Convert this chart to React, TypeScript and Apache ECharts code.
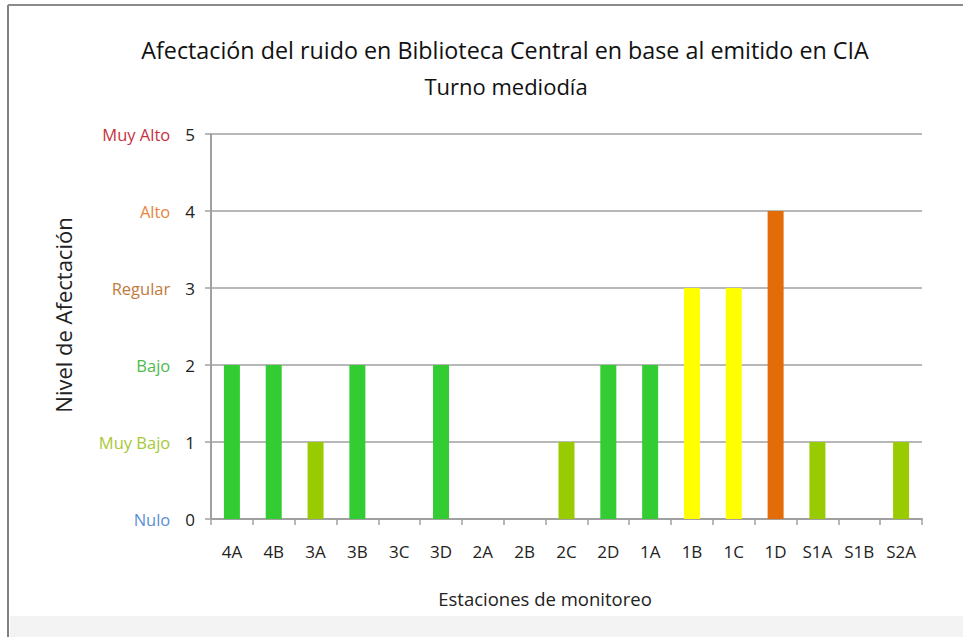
import React, { useEffect, useRef } from "react";
import * as echarts from "echarts";

const categories = ["4A", "4B", "3A", "3B", "3C", "3D", "2A", "2B", "2C", "2D", "1A", "1B", "1C", "1D", "S1A", "S1B", "S2A"];
const values = [2, 2, 1, 2, 0, 2, 0, 0, 1, 2, 2, 3, 3, 4, 1, 0, 1];
const levelNames = ["Nulo", "Muy Bajo", "Bajo", "Regular", "Alto", "Muy Alto"];
const levelLabelColors = ["#5b8fd4", "#a6c935", "#4cba4c", "#c27a3c", "#e8853c", "#c8303e"];
const barColors: Record<number, string> = { 1: "#99cc00", 2: "#33cc33", 3: "#ffff00", 4: "#e36c09", 5: "#c00000" };
const titleLines = ["Afectación del ruido en Biblioteca Central en base al emitido en CIA", "Turno mediodía"];
const yAxisTitle = "Nivel de Afectación";
const xAxisTitle = "Estaciones de monitoreo";

const FONT = "'Open Sans', 'Noto Sans', sans-serif";

export default function App() {
  const ref = useRef<HTMLDivElement>(null);
  useEffect(() => {
    if (!ref.current) return;
    const chart = echarts.init(ref.current, null, { renderer: "svg" });
    const rich: Record<string, any> = {};
    levelNames.forEach((_, i) => {
      rich["l" + i] = {
        color: levelLabelColors[i],
        fontSize: 16.5,
        fontFamily: FONT,
        padding: [0, 15, 0, 0],
        verticalAlign: "middle",
        lineHeight: 22,
      };
    });
    rich.v = { color: "#222", fontSize: 17, fontFamily: FONT, verticalAlign: "middle", lineHeight: 22 };
    chart.setOption({
      animation: false,
      backgroundColor: "#ffffff",
      grid: { left: 211, right: 41, top: 134, bottom: 118, containLabel: false },
      xAxis: {
        type: "category",
        data: categories,
        axisLine: { lineStyle: { color: "#a0a0a0", width: 2 } },
        axisTick: { show: true, length: 6, lineStyle: { color: "#a0a0a0", width: 1.5 } },
        axisLabel: { color: "#222", fontSize: 17, fontFamily: FONT, margin: 24 },
      },
      yAxis: {
        type: "value",
        min: 0,
        max: 5,
        interval: 1,
        axisLine: { show: true, lineStyle: { color: "#a0a0a0", width: 2 } },
        axisTick: { show: true, length: 6, lineStyle: { color: "#a0a0a0", width: 1.5 } },
        splitLine: { show: true, lineStyle: { color: "#a0a0a0", width: 1.5 } },
        axisLabel: {
          margin: 16,
          formatter: (val: number) => `{l${val}|${levelNames[val]}}{v|${val}}`,
          rich,
        },
      },
      series: [
        {
          type: "bar",
          barWidth: 16,
          data: values.map((v) => ({ value: v, itemStyle: { color: barColors[v] || "#33cc33" } })),
        },
      ],
      graphic: [
        { type: "rect", shape: { x: 10, y: 616, width: 953, height: 21 }, style: { fill: "#f3f3f3" }, silent: true },
        { type: "line", shape: { x1: 8, y1: 5, x2: 8, y2: 637 }, style: { stroke: "#808080", lineWidth: 2 } },
        { type: "line", shape: { x1: 8, y1: 5, x2: 963, y2: 5 }, style: { stroke: "#8a8a8a", lineWidth: 2 } },
        {
          type: "text",
          x: 505,
          y: 50,
          style: { text: titleLines[0], fill: "#111", fontSize: 23.3, fontFamily: FONT, textAlign: "center", textVerticalAlign: "middle" },
        },
        {
          type: "text",
          x: 506,
          y: 86,
          style: { text: titleLines[1], fill: "#111", fontSize: 22, fontFamily: FONT, textAlign: "center", textVerticalAlign: "middle" },
        },
        {
          type: "text",
          x: 63,
          y: 315,
          rotation: Math.PI / 2,
          style: { text: yAxisTitle, fill: "#222", fontSize: 22, fontFamily: FONT, textAlign: "center", textVerticalAlign: "middle" },
        },
        {
          type: "text",
          x: 545,
          y: 598,
          style: { text: xAxisTitle, fill: "#222", fontSize: 18.5, fontFamily: FONT, textAlign: "center", textVerticalAlign: "middle" },
        },
      ],
    });
    return () => chart.dispose();
  }, []);
  return <div ref={ref} style={{ position: "fixed", left: 0, top: 0, width: 963, height: 637 }} />;
}
